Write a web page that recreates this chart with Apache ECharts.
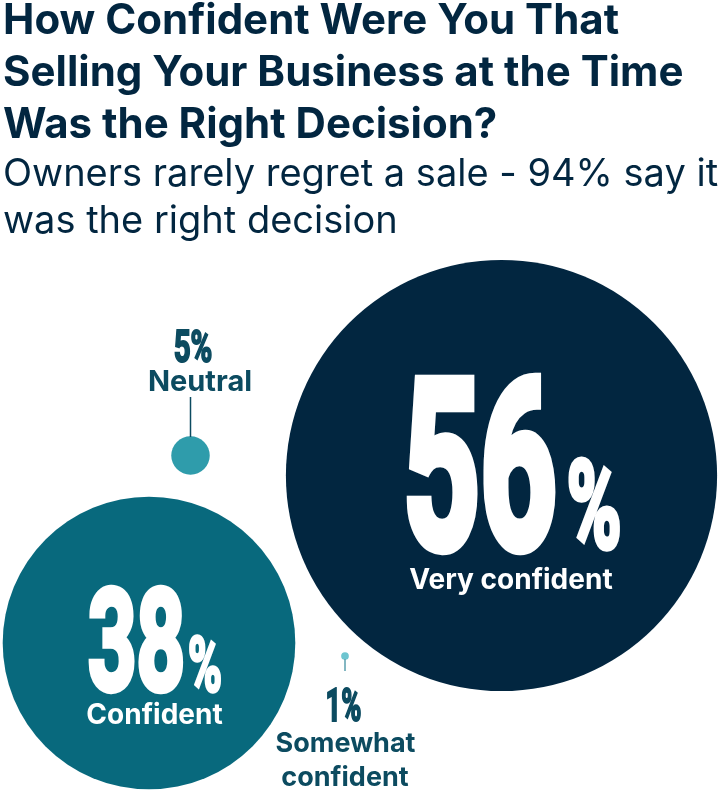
<!doctype html>
<html lang="en">
<head>
  <meta charset="utf-8">
  <title>Selling confidence</title>
  <script src="https://cdn.jsdelivr.net/npm/echarts@6/dist/echarts.min.js"></script>
  <style>
    html, body { margin: 0; padding: 0; background: #fff; }
    #chartmain { width: 720px; height: 791px; }
  </style>
</head>
<body>
<div id="chartmain"></div>
<script>
  // data
  var categories = ['Very confident', 'Confident', 'Neutral', 'Somewhat confident'];
  var percents = [56, 38, 5, 1];

  // layout (bubble centres in grid units = px, not data)
  var centers = [[501.5, 475.5], [149, 643], [190.5, 455.5], [345, 656]];
  var bubbleColors = ['#022640', '#08697d', '#2f9cab', '#6dc5d0'];
  var NAVY = '#022640';
  var DARKTEAL = '#0c4b60';
  var PX_PER_PCT = 7.7;   // diameter per percentage point
  var FONT = 'Inter';

  var myChart = echarts.init(document.getElementById('chartmain'));

  var seriesData = [];
  for (var i = 0; i < percents.length; i++) {
    seriesData.push({
      name: categories[i],
      value: [centers[i][0], centers[i][1], percents[i]],
      itemStyle: { color: bubbleColors[i], opacity: 1 }
    });
  }

  var option = {
    backgroundColor: '#fff',
    animation: false,
    title: {
      text: 'How Confident Were You That\nSelling Your Business at the Time\nWas the Right Decision?',
      subtext: 'Owners rarely regret a sale - 94% say it\nwas the right decision',
      left: 3,
      top: -5,
      padding: 0,
      itemGap: 0,
      textStyle: {
        fontFamily: FONT,
        fontWeight: 'bold',
        fontSize: 42,
        lineHeight: 52,
        color: NAVY
      },
      subtextStyle: {
        fontFamily: FONT,
        fontWeight: 'normal',
        fontSize: 38,
        lineHeight: 47,
        color: NAVY
      }
    },
    grid: { left: 0, right: 0, top: 0, bottom: 0 },
    xAxis: { type: 'value', min: 0, max: 720, show: false },
    yAxis: { type: 'value', min: 0, max: 791, inverse: true, show: false },
    series: [{
      type: 'scatter',
      data: seriesData,
      symbol: 'circle',
      symbolSize: function (val) { return val[2] * PX_PER_PCT; },
      z: 2,
      label: { show: false }
    }]
  };
  myChart.setOption(option);

  // narrow heavy figures: bold Roboto squeezed horizontally, thickened with a stroke
  var measureCtx = document.createElement('canvas').getContext('2d');
  function condensed(str, cx, cy, capH, width, color) {
    var bw = Math.max(2, capH * 0.06);
    var fs = (capH - bw) / 0.711;
    measureCtx.font = 'bold ' + fs + 'px Roboto';
    var w = measureCtx.measureText(str).width + bw;
    return {
      type: 'text',
      x: cx, y: cy + 0.11 * fs,
      scaleX: width / w,
      z: 10,
      style: {
        text: str, x: 0, y: 0,
        align: 'center', verticalAlign: 'middle',
        fontFamily: 'Roboto', fontWeight: 'bold', fontSize: fs,
        fill: color, stroke: color, lineWidth: bw, lineJoin: 'miter'
      }
    };
  }
  function plain(str, cx, cy, size, color) {
    return {
      type: 'text', x: cx, y: cy, z: 10,
      style: {
        text: str, x: 0, y: 0,
        align: 'center', verticalAlign: 'middle',
        fontFamily: FONT, fontWeight: 'bold', fontSize: size,
        fill: color
      }
    };
  }
  function stick(cx, y1, y2, color) {
    return {
      type: 'line', z: 5,
      shape: { x1: cx, y1: y1, x2: cx, y2: y2 },
      style: { stroke: color, lineWidth: 1.5 }
    };
  }

  var graphics = [];
  var p;
  // Very confident
  p = myChart.convertToPixel({ gridIndex: 0 }, centers[0]);
  graphics.push(condensed(String(percents[0]), p[0] - 21.5, p[1] - 12.5, 178, 160, '#fff'));
  graphics.push(condensed('%', p[0] + 92.5, p[1] + 28, 93, 58, '#fff'));
  graphics.push(plain(categories[0], p[0] + 9.5, p[1] + 105, 28, '#fff'));
  // Confident
  p = myChart.convertToPixel({ gridIndex: 0 }, centers[1]);
  graphics.push(condensed(String(percents[1]), p[0] - 12.5, p[1] - 3.5, 107, 101, '#fff'));
  graphics.push(condensed('%', p[0] + 56, p[1] + 20, 58, 36, '#fff'));
  graphics.push(plain(categories[1], p[0] + 5.5, p[1] + 72.5, 28, '#fff'));
  // Neutral
  p = myChart.convertToPixel({ gridIndex: 0 }, centers[2]);
  graphics.push(condensed(percents[2] + '%', p[0] + 2.5, p[1] - 109.5, 34, 40, DARKTEAL));
  graphics.push(plain(categories[2], p[0] + 9.5, p[1] - 73.5, 29, DARKTEAL));
  graphics.push(stick(p[0], p[1] - 58.5, p[1] - 18.5, DARKTEAL));
  // Somewhat confident
  p = myChart.convertToPixel({ gridIndex: 0 }, centers[3]);
  graphics.push(condensed(percents[3] + '%', p[0] - 1.5, p[1] + 48.5, 35, 37, DARKTEAL));
  graphics.push(plain('Somewhat', p[0] + 0.5, p[1] + 88, 27, DARKTEAL));
  graphics.push(plain('confident', p[0], p[1] + 122, 27, DARKTEAL));
  graphics.push(stick(p[0], p[1] + 3, p[1] + 15, '#5a9fae'));

  myChart.setOption({ graphic: graphics });
</script>
</body>
</html>
